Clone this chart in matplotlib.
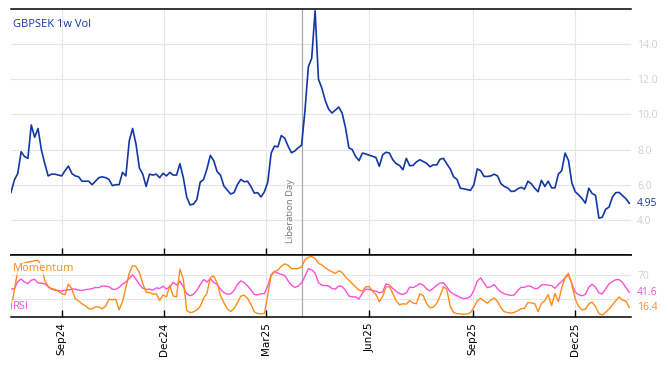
import matplotlib
matplotlib.use("Agg")
import matplotlib.pyplot as plt
import matplotlib.dates as mdates
import pandas as pd
import numpy as np

# ---------------- data (one value every 3 days) ----------------
start_date = "2024-07-18"
step = "3D"

vol = [5.56, 6.27, 6.64, 7.88, 7.6, 7.5, 9.4, 8.7, 9.2, 7.97,
       7.2, 6.5, 6.6, 6.6, 6.55, 6.5, 6.8, 7.06, 6.64, 6.5,
       6.45, 6.2, 6.2, 6.2, 6.0, 6.2, 6.4, 6.45, 6.4, 6.3,
       5.95, 6.0, 6.0, 6.7, 6.5, 8.5, 9.2, 8.3, 6.95, 6.6,
       5.9, 6.6, 6.55, 6.6, 6.4, 6.65, 6.5, 6.7, 6.55, 6.55,
       7.2, 6.4, 5.3, 4.85, 4.9, 5.15, 6.15, 6.3, 6.9, 7.67,
       7.37, 6.75, 6.55, 5.93, 5.7, 5.47, 5.55, 6.0, 6.3, 6.17,
       6.2, 5.9, 5.52, 5.55, 5.3, 5.6, 6.15, 7.8, 8.2, 8.15,
       8.8, 8.65, 8.2, 7.82, 7.92, 8.1, 8.25, 10.2, 12.7, 13.2,
       15.9, 12.0, 11.5, 10.8, 10.3, 10.08, 10.25, 10.42, 10.08, 9.25,
       8.1, 8.0, 7.6, 7.37, 7.8, 7.75, 7.68, 7.62, 7.55, 7.05,
       7.7, 7.85, 7.8, 7.42, 7.2, 7.1, 6.85, 7.5, 7.08, 7.1,
       7.3, 7.42, 7.32, 7.22, 7.02, 7.13, 7.13, 7.45, 7.5, 7.18,
       6.9, 6.45, 6.3, 5.8, 5.77, 5.72, 5.68, 6.0, 6.9, 6.8,
       6.47, 6.47, 6.5, 6.6, 6.5, 6.06, 5.9, 5.82, 5.62, 5.63,
       5.77, 5.85, 5.75, 6.2, 6.05, 5.8, 5.6, 6.25, 5.9, 6.2,
       5.82, 5.82, 6.6, 6.8, 7.8, 7.38, 6.1, 5.6, 5.42, 5.22,
       4.95, 5.8, 5.5, 5.4, 4.1, 4.15, 4.6, 4.73, 5.3, 5.55,
       5.56, 5.38, 5.2, 4.95]

rsi = [46.7, 47.5, 59, 63.5, 58.5, 56, 61.5, 63, 57, 56.5,
       55.5, 50.5, 46.5, 45, 44.5, 43.5, 45, 45.5, 46.8, 47,
       45, 44.5, 45.8, 46.5, 47.5, 49.5, 49.2, 52, 51.5, 50.6,
       46.5, 46.3, 49.8, 55, 58.5, 64.5, 70.5, 63, 54.5, 48.3,
       46.2, 46.6, 45.2, 48.7, 47.9, 51.5, 46.8, 50.5, 57.8, 53.5,
       59.8, 50.2, 39.2, 35.7, 38.2, 44.5, 54.2, 62.6, 58.7, 63.8,
       58, 54.5, 46.5, 41, 38.4, 38.8, 44, 54.5, 60.3, 57.6,
       52.3, 45.7, 37.8, 37.2, 39, 39.4, 52, 70.5, 76.5, 72.9,
       71.1, 69.5, 60.6, 53.3, 49.5, 51.8, 57, 67.7, 80.5, 78.7,
       73.5, 57.3, 53.3, 52.5, 52.2, 47.8, 46.7, 52.1, 51, 44.6,
       35.3, 33.9, 33.9, 30.4, 40.2, 46.7, 46.2, 44.4, 43.3, 40.8,
       42, 55.7, 53.3, 47.7, 43.2, 39.3, 37.9, 40.2, 50.1, 49.3,
       52.2, 56, 53.5, 47, 44, 48.2, 53.2, 56.8, 57.3, 50.3,
       42.1, 38.5, 35.7, 32.6, 31.1, 31.5, 34.8, 44.5, 60, 65.5,
       56.5, 49.2, 50.8, 54.4, 47.2, 42, 38.9, 37.4, 36.3, 37.2,
       44.8, 49.9, 49.6, 52.2, 51, 47.5, 48.1, 53.7, 54.2, 53.3,
       52.5, 48.1, 54.5, 59.4, 65.5, 70.5, 55.3, 41.8, 37.4, 35.8,
       38, 49.8, 55, 49.8, 40.5, 38.6, 47.3, 55.5, 59.5, 62.3,
       62.5, 57.8, 49.3, 41.6]

momentum = [14, 45, 78, 88, 90, 91.5, 92.5, 94, 94.5, 85,
            61, 51, 47.7, 46.5, 43, 39.2, 37.5, 55, 47, 30.7,
            27.5, 22.3, 19.3, 14.2, 13.8, 17.5, 17, 14, 18.5, 30,
            29, 30, 12.5, 26, 49, 73, 86, 84, 74.5, 56,
            41.5, 41, 38.5, 39, 28, 37, 34, 53, 35, 34,
            80, 63, 11.5, 7.8, 9, 12.2, 18, 31.7, 40, 66,
            68.5, 57, 36, 24.5, 14, 9.5, 14.5, 24, 35, 36.8,
            31.5, 21.5, 9.2, 6.1, 5.7, 6.5, 37, 70, 75.2, 78.3,
            84.6, 88.6, 86.6, 80.7, 80.5, 81, 83.5, 95.5, 99.6, 100.8,
            97.5, 89.8, 86.8, 82.3, 78.4, 75.7, 72.8, 77, 74.5, 67,
            61.4, 55.7, 50.2, 44.8, 43.7, 50.5, 51, 43, 38, 26,
            34.5, 50.3, 50.6, 39.4, 27.3, 20.8, 22.5, 21.7, 27.8, 23.8,
            22.4, 39, 36, 23.2, 15.6, 16.8, 23, 35.5, 50.8, 46,
            18, 8, 6.1, 5.7, 5, 5.5, 7.7, 16.5, 27.5, 31.5,
            27, 23.5, 28.5, 32, 26.5, 16, 9.3, 7.8, 7, 8.3,
            11, 14, 15, 24.5, 24, 22.5, 9.5, 23.5, 27.5, 37.7,
            19.5, 39.5, 26, 48.7, 66.4, 73, 54, 30.3, 17.9, 12.2,
            13.4, 22.3, 25.3, 17.7, 6.4, 3.7, 8.3, 13.9, 20.5, 27.8,
            33.6, 28.5, 26.7, 16.4]

x_tick_dates = ["2024-09-01", "2024-12-01", "2025-03-01",
                "2025-06-01", "2025-09-01", "2025-12-01"]
vol_ticks = [4.0, 6.0, 8.0, 10.0, 12.0, 14.0]
osc_ticks = [30, 70]
osc_tick_labels = ["", "70"]   # the "30" label is hidden behind the value labels
event_date = "2025-04-02"
event_label = "Liberation Day"
title = "GBPSEK 1w Vol"

# ---------------- styling ----------------
C_VOL = "#1238a6"
C_MOM = "#ff8c1a"
C_RSI = "#ff4fd8"
C_GRID = "#e6e6e6"
C_TICKLBL = "#cfcfcf"
FONT = "Open Sans"

dates = pd.date_range(start_date, periods=len(vol), freq=step)
xlim = (pd.Timestamp("2024-07-18"), pd.Timestamp("2026-01-19 12:00"))

fig = plt.figure(figsize=(6.68, 3.66), dpi=100)
ax = fig.add_axes([11 / 668, 1 - 255 / 366, 620 / 668, 246 / 366])
ax2 = fig.add_axes([11 / 668, 1 - 317 / 366, 620 / 668, 62 / 366], sharex=ax)

for a in (ax, ax2):
    a.set_facecolor("white")
    for s in ("left", "right"):
        a.spines[s].set_visible(False)
    for s in ("top", "bottom"):
        a.spines[s].set_color("black")
        a.spines[s].set_linewidth(1.1)
    a.grid(True, color=C_GRID, linewidth=0.8)
    a.set_axisbelow(True)
    a.yaxis.tick_right()
    a.tick_params(axis="y", length=0, pad=4.5, labelsize=7.5, labelcolor=C_TICKLBL)
    a.tick_params(axis="x", direction="in", length=5, width=1, color="black")
    a.axvline(pd.Timestamp(event_date), color="#aaaaaa", linewidth=0.9, zorder=1)

# top panel
ax.plot(dates, vol, color=C_VOL, linewidth=1.2, zorder=3)
ax.set_ylim(2, 16)
ax.set_yticks(vol_ticks)
ax.set_yticklabels([f"{v:.1f}" for v in vol_ticks], fontfamily=FONT)
ax.set_xlim(*xlim)
ax.tick_params(axis="x", labelbottom=False)
ax.text(2 / 620, 0.935, title, transform=ax.transAxes, color=C_VOL,
        fontsize=8, fontfamily=FONT, ha="left", va="center")
ax.annotate(event_label, xy=(pd.Timestamp(event_date), 2.7), xytext=(-5, 0),
            textcoords="offset points", rotation=90, ha="right", va="bottom",
            fontsize=6.8, color="#777777", fontfamily=FONT)
ax.annotate(f"{vol[-1]:.2f}", xy=(1, vol[-1]), xycoords=("axes fraction", "data"),
            xytext=(4.5, 0), textcoords="offset points", ha="left", va="center",
            fontsize=7.5, color=C_VOL, fontfamily=FONT,
            bbox=dict(boxstyle="square,pad=0.1", fc="white", ec="none"))

# bottom panel
ax2.plot(dates, rsi, color=C_RSI, linewidth=1.0, zorder=3)
ax2.plot(dates, momentum, color=C_MOM, linewidth=1.0, zorder=3)
ax2.set_ylim(0.5, 103.3)
ax2.set_yticks(osc_ticks)
ax2.set_yticklabels(osc_tick_labels, fontfamily=FONT)
ax2.set_xticks([pd.Timestamp(d) for d in x_tick_dates])
ax2.xaxis.set_major_formatter(mdates.DateFormatter("%b%y"))
ax2.tick_params(axis="x", labelrotation=90, labelsize=7.5, pad=4)
ax2.set_xlim(*xlim)

ax2.text(2 / 620, 0.78, "Momentum", transform=ax2.transAxes, color=C_MOM,
         fontsize=8, fontfamily=FONT, ha="left", va="center", zorder=5,
         bbox=dict(boxstyle="square,pad=0.05", fc="white", ec="none", alpha=0.7))
ax2.text(2 / 620, 0.17, "RSI", transform=ax2.transAxes, color=C_RSI,
         fontsize=8, fontfamily=FONT, ha="left", va="center", zorder=5,
         bbox=dict(boxstyle="square,pad=0.05", fc="white", ec="none", alpha=0.7))
for val, col in ((rsi[-1], C_RSI), (momentum[-1], C_MOM)):
    ax2.annotate(f"{val:.1f}", xy=(1, val), xycoords=("axes fraction", "data"),
                 xytext=(4.5, 0), textcoords="offset points", ha="left", va="center",
                 fontsize=7.5, color=col, fontfamily=FONT,
                 bbox=dict(boxstyle="square,pad=0.1", fc="white", ec="none"))

fig.savefig("out.png", dpi=100)
